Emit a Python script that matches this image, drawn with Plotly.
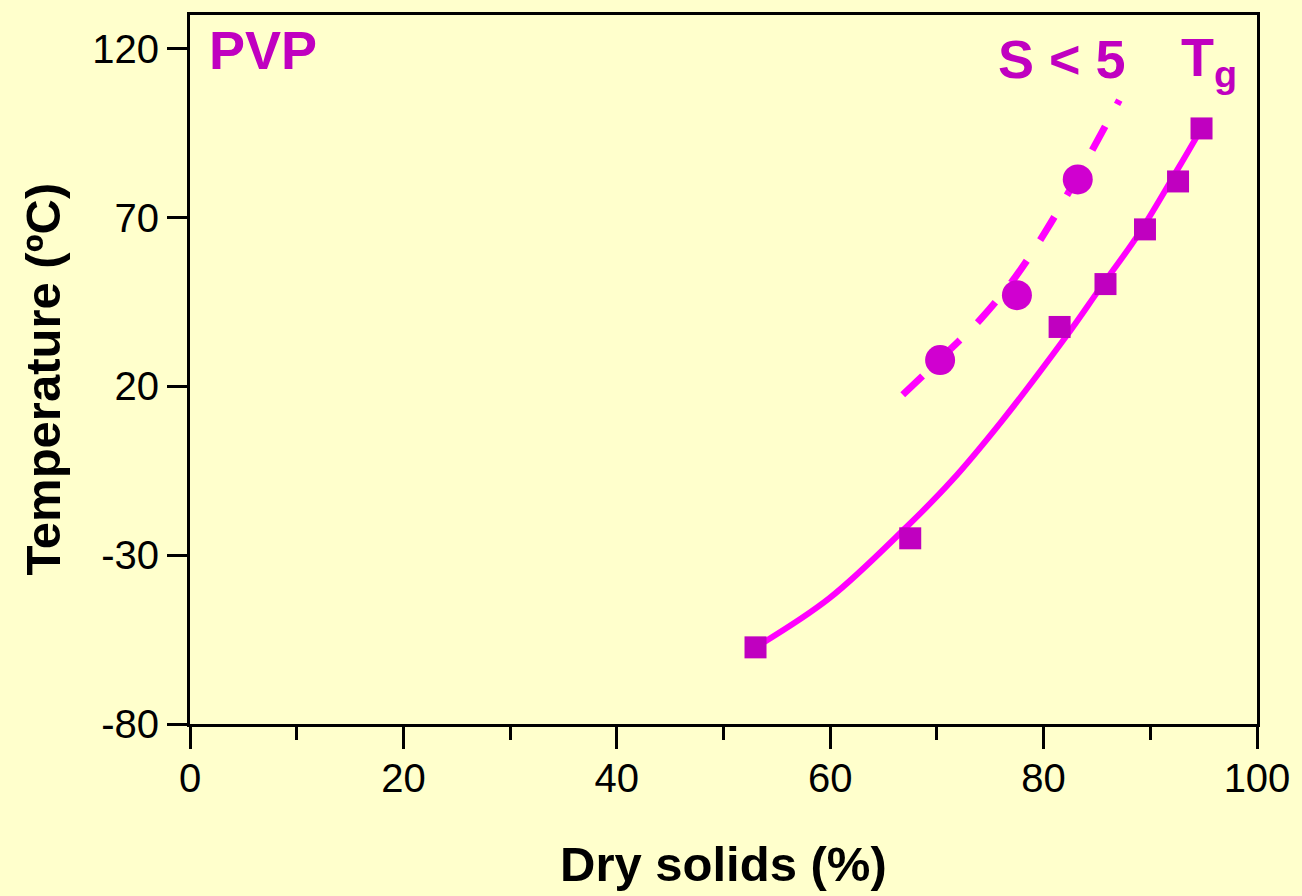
import plotly.graph_objects as go

# Measured points
tg_x = [53.0, 67.5, 81.5, 85.8, 89.5, 92.6, 94.8]
tg_y = [-57.3, -25.0, 37.6, 50.3, 66.5, 80.7, 96.4]
s5_x = [70.3, 77.5, 83.2]
s5_y = [27.8, 47.0, 81.3]

# Fitted curves
tg_fit_x = [53.0, 59.9, 67.1, 71.4, 76.1, 82.0, 85.3, 88.9, 92.6, 94.8]
tg_fit_y = [-57.3, -42.8, -21.8, -7.9, 9.8, 34.3, 49.1, 65.1, 84.5, 96.4]
s5_fit_x = [66.8, 70.9, 74.1, 77.4, 80.3, 83.7, 87.1]
s5_fit_y = [17.5, 29.9, 39.9, 52.6, 66.5, 85.1, 104.8]

x_ticks = [0, 20, 40, 60, 80, 100]
y_ticks = [-80, -30, 20, 70, 120]
y_tick_text = ["-80", "-30", "20", "70", "120"]

BG = "#ffffcc"
LINE = "#ff00ff"
MARK = "#c000c0"
CIRC = "#d000d0"
FONT = "Liberation Sans, Arial, sans-serif"

fig = go.Figure()
fig.add_trace(go.Scatter(x=tg_fit_x, y=tg_fit_y, mode="lines",
                         line=dict(color=LINE, width=6, shape="spline"),
                         hoverinfo="skip", showlegend=False))
fig.add_trace(go.Scatter(x=s5_fit_x, y=s5_fit_y, mode="lines",
                         line=dict(color=LINE, width=7, shape="spline", dash="27px,25px"),
                         hoverinfo="skip", showlegend=False))
fig.add_trace(go.Scatter(x=tg_x, y=tg_y, mode="markers", name="Tg",
                         marker=dict(symbol="square", size=22, color=MARK),
                         showlegend=False))
fig.add_trace(go.Scatter(x=s5_x, y=s5_y, mode="markers", name="S < 5",
                         marker=dict(symbol="circle", size=30, color=CIRC),
                         showlegend=False))

axis_common = dict(showgrid=False, zeroline=False, showline=True, linecolor="black",
                   linewidth=3, mirror=True, ticks="outside", tickcolor="black",
                   tickwidth=3, tickfont=dict(family=FONT, size=40, color="black"))

fig.update_xaxes(range=[0, 100], tickvals=x_ticks, ticklen=22, ticklabelstandoff=-5,
                 minor=dict(ticks="outside", dtick=10, ticklen=13, tickwidth=3, tickcolor="black", showgrid=False),
                 **axis_common)
fig.update_yaxes(range=[-80, 130], tickvals=y_ticks, ticktext=y_tick_text, ticklen=20, **axis_common)

fig.add_annotation(x=0.5, y=-0.197, xref="paper", yref="paper", text="<b>Dry solids (%)</b>",
                   showarrow=False, font=dict(family=FONT, size=49, color="black"),
                   xanchor="center", yanchor="middle")
fig.add_annotation(x=-0.138, y=0.487, xref="paper", yref="paper", text="<b>Temperature (ºC)</b>",
                   showarrow=False, textangle=-90, font=dict(family=FONT, size=49, color="black"),
                   xanchor="center", yanchor="middle")

fig.add_annotation(x=1.6, y=119.5, xref="x", yref="y", text="<b>PVP</b>", showarrow=False,
                   font=dict(family=FONT, size=54, color=MARK), xanchor="left", yanchor="middle")
fig.add_annotation(x=81.7, y=117.0, xref="x", yref="y", text="<b>S &lt; 5</b>", showarrow=False,
                   font=dict(family=FONT, size=54, color=MARK), xanchor="center", yanchor="middle")
fig.add_annotation(x=92.7, y=116.5, xref="x", yref="y", text="<b>T<sub>g</sub></b>", showarrow=False,
                   font=dict(family=FONT, size=54, color=MARK), xanchor="left", yanchor="middle")

fig.update_layout(width=1302, height=896, autosize=False,
                  margin=dict(l=190, r=43, t=13, b=172),
                  paper_bgcolor=BG, plot_bgcolor=BG, showlegend=False)

fig.write_html("out.html")
